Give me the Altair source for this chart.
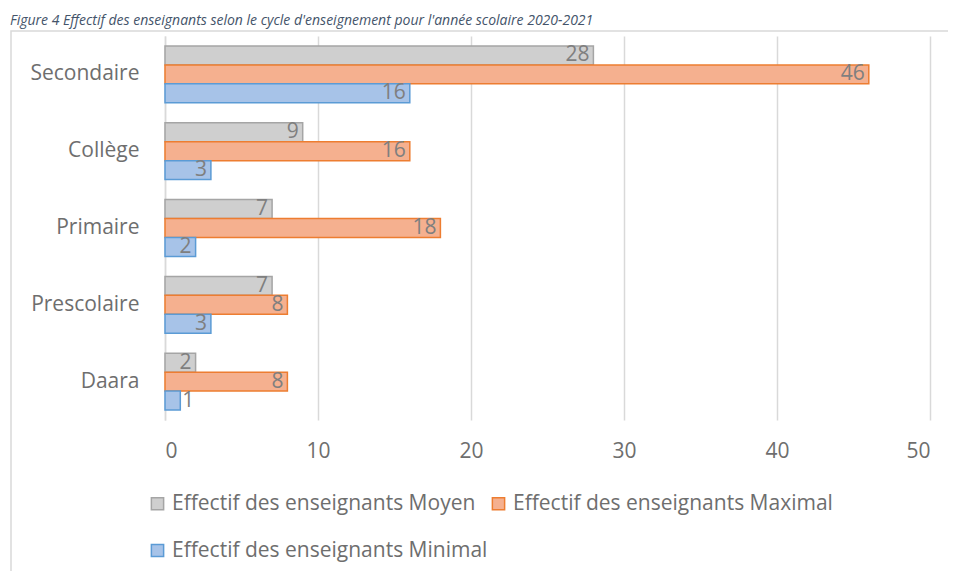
import altair as alt
import pandas as pd

categories = ["Secondaire", "Collège", "Primaire", "Prescolaire", "Daara"]
series = [
    "Effectif des enseignants Moyen",
    "Effectif des enseignants Maximal",
    "Effectif des enseignants Minimal",
]
moyen = [28, 9, 7, 7, 2]
maximal = [46, 16, 18, 8, 8]
minimal = [16, 3, 2, 3, 1]
x_ticks = [0, 10, 20, 30, 40, 50]
fill_colors = ["#CFCFCF", "#F5B08F", "#A7C3E8"]
stroke_colors = ["#A5A5A5", "#ED7D31", "#5B9BD5"]
title_text = "Figure 4 Effectif des enseignants selon le cycle d'enseignement pour l'année scolaire 2020-2021"

rows = []
for s, vals in zip(series, [moyen, maximal, minimal]):
    for c, v in zip(categories, vals):
        rows.append({"cycle": c, "serie": s, "valeur": v})
df = pd.DataFrame(rows)
dummy = pd.DataFrame({"a": [0]})

FONT = "Open Sans"
TXT = "#6E6E6E"

y = alt.Y(
    "cycle:N",
    sort=categories,
    scale=alt.Scale(paddingInner=0.26, paddingOuter=0.13),
    axis=alt.Axis(
        title=None, ticks=False, domain=True, domainColor="#D9D9D9", domainWidth=1.5,
        labelPadding=26, labelFontSize=21, labelColor=TXT, labelFont=FONT, grid=False,
    ),
)
x = alt.X(
    "valeur:Q",
    scale=alt.Scale(domain=[0, 50], nice=False),
    axis=alt.Axis(
        title=None, values=x_ticks, grid=True, gridColor="#D9D9D9", gridWidth=1.5,
        domain=False, ticks=False, labelPadding=20, labelFontSize=21, labelColor=TXT,
        labelFont=FONT,
    ),
)
yoff = alt.YOffset(
    "serie:N", sort=series,
    scale=alt.Scale(domain=series, paddingInner=0, paddingOuter=0),
)
legend_kw = dict(
    title=None, orient="none", legendX=-18, legendY=457, columns=2,
    direction="horizontal",
    columnPadding=-22, rowPadding=25, symbolType="square", symbolSize=150,
    symbolStrokeWidth=1.5, labelFontSize=21, labelFont=FONT, labelColor=TXT,
    labelLimit=0,
)
color = alt.Color("serie:N", sort=series,
                  scale=alt.Scale(domain=series, range=fill_colors),
                  legend=alt.Legend(**legend_kw))
stroke = alt.Stroke("serie:N", sort=series,
                    scale=alt.Scale(domain=series, range=stroke_colors),
                    legend=alt.Legend(**legend_kw))

base = alt.Chart(df)
bars = base.mark_bar(strokeWidth=1.5).encode(y=y, x=x, yOffset=yoff, color=color, stroke=stroke)

labels_in = base.transform_filter("datum.valeur >= 2").mark_text(
    align="right", baseline="middle", dx=-4, fontSize=21, font=FONT, color="#7F7F7F"
).encode(y=y, x=x, yOffset=yoff, text="valeur:Q")
labels_out = base.transform_filter("datum.valeur < 2").mark_text(
    align="left", baseline="middle", dx=2, fontSize=21, font=FONT, color="#7F7F7F"
).encode(y=y, x=x, yOffset=yoff, text="valeur:Q")

frame = alt.Chart(dummy).mark_rect(fill=None, stroke="#D9D9D9", strokeWidth=1.5).encode(
    x=alt.value(-154), x2=alt.value(800), y=alt.value(-5), y2=alt.value(560)
)
title = alt.Chart(dummy).mark_text(
    align="left", baseline="alphabetic", fontStyle="italic", fontSize=14,
    font=FONT, color="#44546A",
).encode(x=alt.value(-155), y=alt.value(-11), text=alt.value(title_text))

chart = alt.layer(frame, title, bars, labels_in, labels_out).properties(
    width=765, height=384,
    autosize=alt.AutoSizeParams(type="none"),
    padding={"left": 157, "top": 28, "right": 18, "bottom": 151},
    background="white",
).configure_view(stroke=None)

chart.save("out.html", embed_options={"renderer": "svg", "actions": False})
